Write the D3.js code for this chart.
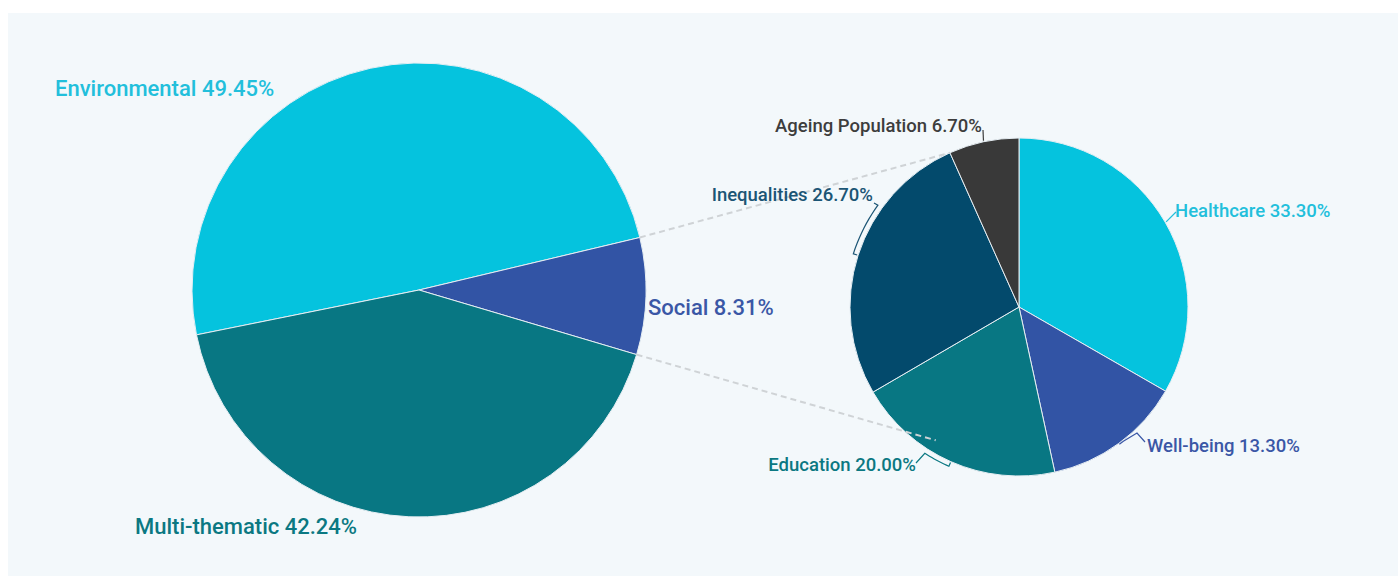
<!DOCTYPE html>
<html>
<head>
<meta charset="utf-8">
<script src="https://cdn.jsdelivr.net/npm/d3@7"></script>
<style>
html,body{margin:0;padding:0;background:#ffffff;}
svg{display:block;font-family:Roboto,"Open Sans",sans-serif;}
</style>
</head>
<body>
<svg id="chart" width="1398" height="577"></svg>
<script>
// ---- data ----
const mainCategories = ["Environmental", "Social", "Multi-thematic"];
const mainValues = [49.45, 8.31, 42.24];
const mainColors = ["#05c3de", "#3254a5", "#087783"];
const mainLabelColors = ["#22bfdb", "#3a57a6", "#0b7882"];

const subCategories = ["Healthcare", "Well-being", "Education", "Inequalities", "Ageing Population"];
const subValues = [33.30, 13.30, 20.00, 26.70, 6.70];
const subColors = ["#05c3de", "#3254a5", "#087783", "#034a6c", "#393939"];
const subLabelColors = ["#22bfdb", "#3a57a6", "#0b7882", "#1b5575", "#3d3d3d"];

const fmt = v => v.toFixed(2) + "%";
const deg = Math.PI / 180;

const svg = d3.select("#chart");
svg.append("rect").attr("x", 8).attr("y", 13).attr("width", 1390).attr("height", 563).attr("fill", "#f3f8fb");

// ---- main pie ----
const mainCx = 419, mainCy = 290, mainR = 227;
const mainPie = d3.pie().sort(null).value(d => d).startAngle(-101.4 * deg).endAngle(258.6 * deg);
const mainArcs = mainPie(mainValues);
const mainArc = d3.arc().innerRadius(0).outerRadius(mainR);
const gMain = svg.append("g").attr("transform", `translate(${mainCx},${mainCy})`);
gMain.selectAll("path").data(mainArcs).join("path")
  .attr("d", mainArc)
  .attr("fill", (d, i) => mainColors[i])
  .attr("stroke", "#e6eef3").attr("stroke-width", 1);

// ---- sub pie ----
const subCx = 1019, subCy = 307, subR = 169;
const subPie = d3.pie().sort(null).value(d => d);
const subArcs = subPie(subValues);
const subArc = d3.arc().innerRadius(0).outerRadius(subR);
const gSub = svg.append("g").attr("transform", `translate(${subCx},${subCy})`);
gSub.selectAll("path").data(subArcs).join("path")
  .attr("d", subArc)
  .attr("fill", (d, i) => subColors[i])
  .attr("stroke", "#e6eef3").attr("stroke-width", 1);

// ---- connector lines ----
const polar = (cx, cy, r, a) => [cx + r * Math.sin(a), cy - r * Math.cos(a)];
const social = mainArcs[1];
const conn = [
  [polar(mainCx, mainCy, mainR, social.startAngle), polar(subCx, subCy, subR, subArcs[4].startAngle)],
  [polar(mainCx, mainCy, mainR, social.endAngle), polar(subCx, subCy, subR * 0.93, 212 * deg)]
];
svg.selectAll("line.conn").data(conn).join("line").attr("class", "conn")
  .attr("x1", d => d[0][0]).attr("y1", d => d[0][1])
  .attr("x2", d => d[1][0]).attr("y2", d => d[1][1])
  .attr("stroke", "#cfd3d6").attr("stroke-width", 2).attr("stroke-dasharray", "6,4");

// ---- main labels ----
const mainLabelPos = [[55, 96, "start"], [648, 315, "start"], [135, 534, "start"]];
svg.selectAll("text.main").data(mainArcs).join("text").attr("class", "main")
  .attr("x", (d, i) => mainLabelPos[i][0]).attr("y", (d, i) => mainLabelPos[i][1])
  .attr("text-anchor", (d, i) => mainLabelPos[i][2])
  .attr("fill", (d, i) => mainLabelColors[i])
  .attr("font-size", 22).attr("font-weight", 500)
  .text((d, i) => `${mainCategories[i]} ${fmt(mainValues[i])}`);

// ---- sub labels ----
// [x, y, anchor, lineEndX, lineEndY, bracketSpanDeg]
const subLabelPos = [
  [1175, 217, "start", 1176, 212, 0],
  [1147, 452, "start", 1145, 442, 0],
  [916, 471, "end", 916, 463, 9],
  [873, 201, "end", 874, 203, 18],
  [982, 132, "end", 983, 130, 0]
];
const gLead = svg.append("g");
subArcs.forEach((d, i) => {
  const mid = (d.startAngle + d.endAngle) / 2;
  const p = subLabelPos[i];
  const pts = [];
  const span = p[5] * deg;
  if (span !== 0) {
    pts.push(polar(subCx, subCy, subR + 1, mid));
    const n = 10;
    for (let k = 0; k <= n; k++) pts.push(polar(subCx, subCy, subR + 5, mid + span * k / n));
    pts.push([p[3], p[4]]);
  } else if (i === 1) {
    const a = polar(subCx, subCy, subR + 1, mid);
    pts.push(a, [a[0] + 4, a[1] - 3], [p[3] - 8, p[4] - 9], [p[3], p[4]]);
  } else {
    pts.push(polar(subCx, subCy, subR + 1, mid), [p[3], p[4]]);
  }
  gLead.append("path").attr("d", d3.line()(pts))
    .attr("fill", "none").attr("stroke", subLabelColors[i]).attr("stroke-width", 1.2);
});
svg.selectAll("text.sub").data(subArcs).join("text").attr("class", "sub")
  .attr("x", (d, i) => subLabelPos[i][0]).attr("y", (d, i) => subLabelPos[i][1])
  .attr("text-anchor", (d, i) => subLabelPos[i][2])
  .attr("fill", (d, i) => subLabelColors[i])
  .attr("font-size", 18.5).attr("font-weight", 500)
  .text((d, i) => `${subCategories[i]} ${fmt(subValues[i])}`);
</script>
</body>
</html>
